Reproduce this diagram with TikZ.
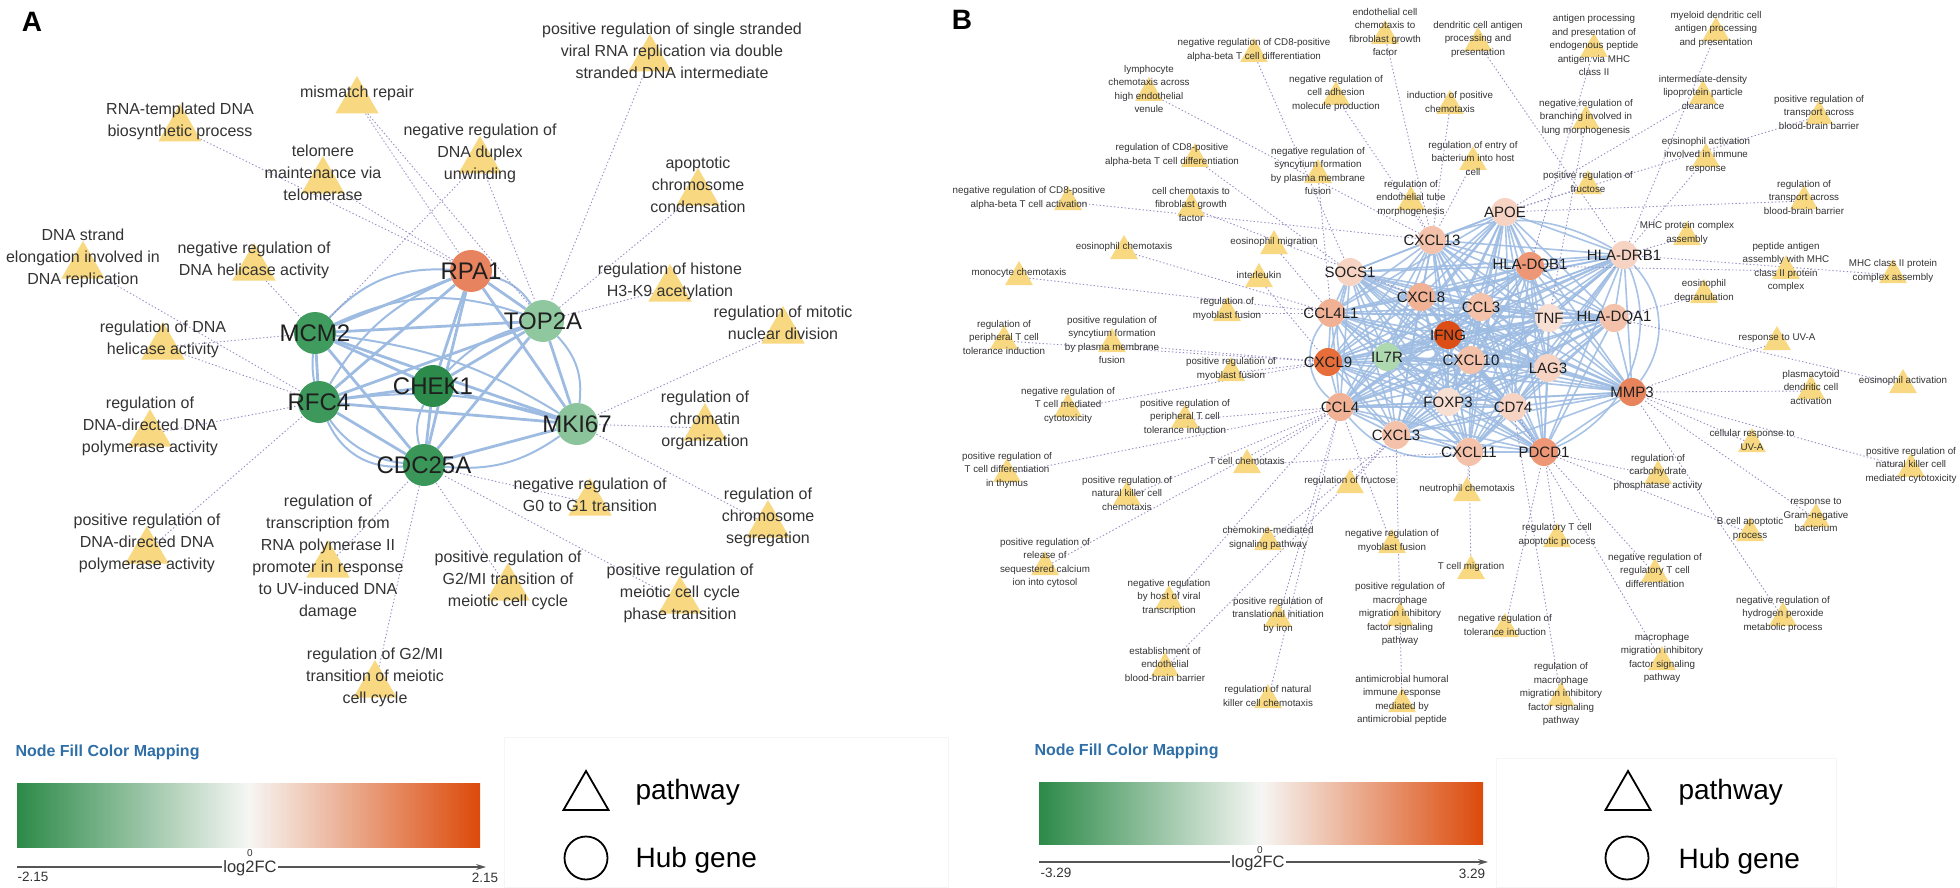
\documentclass[tikz,border=0pt]{standalone}
\usepackage{fontspec}
\setmainfont{Liberation Sans}
\usepackage{tikz}
\usetikzlibrary{shapes.geometric, arrows.meta, backgrounds}
\definecolor{triyellow}{HTML}{F8D880}
\definecolor{txtgray}{HTML}{333333}
\definecolor{hubtext}{HTML}{1F1F1F}
\definecolor{ppiblue}{HTML}{9EBCE2}
\definecolor{dotpurple}{HTML}{978FC6}
\definecolor{legblue}{HTML}{2F6FA6}
\definecolor{gradgreen}{HTML}{2C8A48}
\definecolor{gradorange}{HTML}{DC4A0A}
\definecolor{gradwhite}{HTML}{F6F6F4}
\definecolor{axisgray}{HTML}{555555}
\definecolor{cRPA}{HTML}{E8835F}
\definecolor{cTOP}{HTML}{8FC79F}
\definecolor{cMCM}{HTML}{3F9B5E}
\definecolor{cCHEK}{HTML}{2C8A4A}
\definecolor{cRFC}{HTML}{3C995B}
\definecolor{cMKI}{HTML}{8BC49B}
\definecolor{cCDC}{HTML}{3A9759}
\definecolor{cpale}{HTML}{F6D3C3}
\definecolor{cpeach}{HTML}{F4C2AA}
\definecolor{csalmon}{HTML}{F0B195}
\definecolor{cdeep}{HTML}{EE9776}
\definecolor{corange}{HTML}{E8845B}
\definecolor{cred}{HTML}{DD4E16}
\definecolor{cnine}{HTML}{E76E3A}
\definecolor{cwhite}{HTML}{F8DFD4}
\definecolor{cmint}{HTML}{AED8B0}
\tikzset{
  pathA/.style={regular polygon, regular polygon sides=3, minimum size=50pt,
    inner sep=0pt, fill=triyellow},
  pathB/.style={regular polygon, regular polygon sides=3, minimum size=32pt,
    inner sep=0pt, fill=triyellow},
  lblA/.style={align=center, font=\fontsize{16}{22}\selectfont, text=txtgray,
    yshift=8pt, inner sep=0pt},
  lblB/.style={align=center, font=\fontsize{9.8}{13.5}\selectfont, text=txtgray,
    yshift=4pt, inner sep=0pt},
  hubA/.style={circle, minimum size=42pt, inner sep=0pt},
  hubB/.style={circle, minimum size=28pt, inner sep=0pt},
  hubtxtA/.style={font=\fontsize{24}{24}\selectfont, text=hubtext, inner sep=0pt},
  hubtxtB/.style={font=\fontsize{15}{15}\selectfont, text=hubtext, inner sep=0pt},
  ppiA/.style={draw=ppiblue, line width=2.8pt},
  ppiB/.style={draw=ppiblue, line width=1.6pt, opacity=0.9},
  goedge/.style={draw=dotpurple, line width=0.9pt, dash pattern=on 1.4pt off 2.2pt},
  legtitle/.style={font=\bfseries\fontsize{16}{16}\selectfont, text=legblue, anchor=west},
  legtxt/.style={font=\fontsize{28}{28}\selectfont, text=black, anchor=west},
  ticktxt/.style={font=\fontsize{13.5}{13.5}\selectfont, text=txtgray, inner sep=1pt},
  axistxt/.style={font=\fontsize{16.5}{16.5}\selectfont, text=txtgray, fill=white, inner sep=1.5pt},
  legtri/.style={regular polygon, regular polygon sides=3, minimum size=52pt,
    inner sep=0pt, draw=black, line width=1.8pt},
  legcirc/.style={circle, minimum size=43pt, inner sep=0pt, draw=black, line width=1.8pt},
  axisline/.style={-{Stealth[length=10pt,width=6pt]}, line width=1.1pt, draw=axisgray},
  panel/.style={font=\bfseries\fontsize{28}{28}\selectfont, text=black}
}

\begin{document}
\begin{tikzpicture}[x=1pt, y=-1pt]
  \useasboundingbox (0,0) rectangle (1960,888);

  % panel A
  \node[panel] (labA) at (32,22) {A};

  \node[pathA, label={[lblA, xshift=22pt]center:{positive regulation of single stranded\\viral RNA replication via double\\stranded DNA intermediate}}] (a1) at (650,59) {};
  \node[pathA, label={[lblA]center:{mismatch repair}}] (a2) at (357,101) {};
  \node[pathA, label={[lblA]center:{RNA-templated DNA\\biosynthetic process}}] (a3) at (180,129) {};
  \node[pathA, label={[lblA]center:{telomere\\maintenance via\\telomerase}}] (a4) at (323,181) {};
  \node[pathA, label={[lblA]center:{negative regulation of\\DNA duplex\\unwinding}}] (a5) at (480,161) {};
  \node[pathA, label={[lblA]center:{apoptotic\\chromosome\\condensation}}] (a6) at (698,193) {};
  \node[pathA, label={[lblA]center:{DNA strand\\elongation involved in\\DNA replication}}] (a7) at (83,266) {};
  \node[pathA, label={[lblA]center:{negative regulation of\\DNA helicase activity}}] (a8) at (254,268) {};
  \node[pathA, label={[lblA]center:{regulation of histone\\H3-K9 acetylation}}] (a9) at (670,289) {};
  \node[pathA, label={[lblA]center:{regulation of mitotic\\nuclear division}}] (a10) at (783,331) {};
  \node[pathA, label={[lblA]center:{regulation of DNA\\helicase activity}}] (a11) at (163,347) {};
  \node[pathA, label={[lblA]center:{regulation of\\DNA-directed DNA\\polymerase activity}}] (a12) at (150,434) {};
  \node[pathA, label={[lblA]center:{regulation of\\chromatin\\organization}}] (a13) at (705,428) {};
  \node[pathA, label={[lblA]center:{negative regulation of\\G0 to G1 transition}}] (a14) at (590,503) {};
  \node[pathA, label={[lblA]center:{regulation of\\chromosome\\segregation}}] (a15) at (768,525) {};
  \node[pathA, label={[lblA]center:{positive regulation of\\DNA-directed DNA\\polymerase activity}}] (a16) at (147,551) {};
  \node[pathA, label={[lblA]center:{regulation of\\transcription from\\RNA polymerase II\\promoter in response\\to UV-induced DNA\\damage}}] (a17) at (328,565) {};
  \node[pathA, label={[lblA]center:{positive regulation of\\G2/MI transition of\\meiotic cell cycle}}] (a18) at (508,588) {};
  \node[pathA, label={[lblA]center:{positive regulation of\\meiotic cell cycle\\phase transition}}] (a19) at (680,601) {};
  \node[pathA, label={[lblA]center:{regulation of G2/MI\\transition of meiotic\\cell cycle}}] (a20) at (375,685) {};

  \node[hubA, fill=cRPA, label={[hubtxtA]center:RPA1}] (rpa1) at (471,271) {};
  \node[hubA, fill=cTOP, label={[hubtxtA]center:TOP2A}] (top2a) at (543,321) {};
  \node[hubA, fill=cMCM, label={[hubtxtA]center:MCM2}] (mcm2) at (315,333) {};
  \node[hubA, fill=cCHEK, label={[hubtxtA]center:CHEK1}] (chek1) at (433,386) {};
  \node[hubA, fill=cRFC, label={[hubtxtA]center:RFC4}] (rfc4) at (319,402) {};
  \node[hubA, fill=cMKI, label={[hubtxtA]center:MKI67}] (mki67) at (577,424) {};
  \node[hubA, fill=cCDC, label={[hubtxtA]center:CDC25A}] (cdc25a) at (424,465) {};

  % panel B
  \node[panel] (labB) at (962,20) {B};

  \node[pathB, label={[lblB]center:{negative regulation of CD8-positive\\alpha-beta T cell differentiation}}] (b1) at (1254,54) {};
  \node[pathB, label={[lblB]center:{lymphocyte\\chemotaxis across\\high endothelial\\venule}}] (b2) at (1149,93) {};
  \node[pathB, label={[lblB]center:{negative regulation of\\cell adhesion\\molecule production}}] (b3) at (1336,97) {};
  \node[pathB, label={[lblB, xshift=-23pt]center:{regulation of CD8-positive\\alpha-beta T cell differentiation}}] (b4) at (1195,159) {};
  \node[pathB, label={[lblB]center:{negative regulation of\\syncytium formation\\by plasma membrane\\fusion}}] (b5) at (1318,175) {};
  \node[pathB, label={[lblB, xshift=-39pt]center:{negative regulation of CD8-positive\\alpha-beta T cell activation}}] (b6) at (1068,202) {};
  \node[pathB, label={[lblB]center:{cell chemotaxis to\\fibroblast growth\\factor}}] (b7) at (1191,208) {};
  \node[pathB, label={[lblB]center:{eosinophil migration}}] (b8) at (1274,246) {};
  \node[pathB, label={[lblB]center:{eosinophil chemotaxis}}] (b9) at (1124,251) {};
  \node[pathB, label={[lblB]center:{monocyte chemotaxis}}] (b10) at (1019,277) {};
  \node[pathB, label={[lblB]center:{interleukin}}] (b11) at (1259,279) {};
  \node[pathB, label={[lblB]center:{regulation of\\myoblast fusion}}] (b12) at (1227,313) {};
  \node[pathB, label={[lblB]center:{regulation of\\peripheral T cell\\tolerance induction}}] (b13) at (1004,341) {};
  \node[pathB, label={[lblB]center:{positive regulation of\\syncytium formation\\by plasma membrane\\fusion}}] (b14) at (1112,344) {};
  \node[pathB, label={[lblB]center:{positive regulation of\\myoblast fusion}}] (b15) at (1231,373) {};
  \node[pathB, label={[lblB]center:{negative regulation of\\T cell mediated\\cytotoxicity}}] (b16) at (1068,409) {};
  \node[pathB, label={[lblB]center:{positive regulation of\\peripheral T cell\\tolerance induction}}] (b17) at (1185,420) {};
  \node[pathB, label={[lblB]center:{positive regulation of\\T cell differentiation\\in thymus}}] (b18) at (1007,474) {};
  \node[pathB, label={[lblB]center:{T cell chemotaxis}}] (b19) at (1247,465) {};
  \node[pathB, label={[lblB]center:{positive regulation of\\natural killer cell\\chemotaxis}}] (b20) at (1127,497) {};
  \node[pathB, label={[lblB]center:{regulation of fructose}}] (b21) at (1350,485) {};
  \node[pathB, label={[lblB]center:{neutrophil chemotaxis}}] (b22) at (1467,493) {};
  \node[pathB, label={[lblB]center:{chemokine-mediated\\signaling pathway}}] (b23) at (1268,542) {};
  \node[pathB, label={[lblB]center:{negative regulation of\\myoblast fusion}}] (b24) at (1392,545) {};
  \node[pathB, label={[lblB]center:{T cell migration}}] (b25) at (1471,571) {};
  \node[pathB, label={[lblB]center:{positive regulation of\\release of\\sequestered calcium\\ion into cytosol}}] (b26) at (1045,567) {};
  \node[pathB, label={[lblB]center:{negative regulation\\by host of viral\\transcription}}] (b27) at (1169,601) {};
  \node[pathB, label={[lblB]center:{positive regulation of\\translational initiation\\by iron}}] (b28) at (1278,619) {};
  \node[pathB, label={[lblB]center:{establishment of\\endothelial\\blood-brain barrier}}] (b29) at (1165,668) {};
  \node[pathB, label={[lblB]center:{regulation of natural\\killer cell chemotaxis}}] (b30) at (1268,700) {};
  \node[pathB, label={[lblB]center:{positive regulation of\\macrophage\\migration inhibitory\\factor signaling\\pathway}}] (b31) at (1400,618) {};
  \node[pathB, label={[lblB]center:{antimicrobial humoral\\immune response\\mediated by\\antimicrobial peptide}}] (b32) at (1402,704) {};
  \node[pathB, label={[lblB]center:{regulatory T cell\\apoptotic process}}] (b34) at (1557,539) {};
  \node[pathB, label={[lblB]center:{negative regulation of\\tolerance induction}}] (b35) at (1505,629) {};
  \node[pathB, label={[lblB]center:{regulation of\\macrophage\\migration inhibitory\\factor signaling\\pathway}}] (b36) at (1561,698) {};
  \node[pathB, label={[lblB]center:{negative regulation of\\regulatory T cell\\differentiation}}] (b37) at (1655,574) {};
  \node[pathB, label={[lblB]center:{macrophage\\migration inhibitory\\factor signaling\\pathway}}] (b38) at (1662,662) {};
  \node[pathB, label={[lblB]center:{regulation of\\carbohydrate\\phosphatase activity}}] (b39) at (1658,476) {};
  \node[pathB, label={[lblB]center:{B cell apoptotic\\process}}] (b40) at (1750,533) {};
  \node[pathB, label={[lblB]center:{response to\\Gram-negative\\bacterium}}] (b41) at (1816,519) {};
  \node[pathB, label={[lblB]center:{negative regulation of\\hydrogen peroxide\\metabolic process}}] (b42) at (1783,618) {};
  \node[pathB, label={[lblB]center:{cellular response to\\UV-A}}] (b43) at (1752,444) {};
  \node[pathB, label={[lblB]center:{positive regulation of\\natural killer cell\\mediated cytotoxicity}}] (b44) at (1911,469) {};
  \node[pathB, label={[lblB]center:{plasmacytoid\\dendritic cell\\activation}}] (b45) at (1811,391) {};
  \node[pathB, label={[lblB]center:{eosinophil activation}}] (b46) at (1903,385) {};
  \node[pathB, label={[lblB]center:{response to UV-A}}] (b47) at (1777,342) {};
  \node[pathB, label={[lblB]center:{eosinophil\\degranulation}}] (b48) at (1704,295) {};
  \node[pathB, label={[lblB]center:{MHC class II protein\\complex assembly}}] (b49) at (1893,275) {};
  \node[pathB, label={[lblB]center:{peptide antigen\\assembly with MHC\\class II protein\\complex}}] (b50) at (1786,271) {};
  \node[pathB, label={[lblB]center:{MHC protein complex\\assembly}}] (b51) at (1687,237) {};
  \node[pathB, label={[lblB]center:{regulation of\\transport across\\blood-brain barrier}}] (b52) at (1804,201) {};
  \node[pathB, label={[lblB]center:{eosinophil activation\\involved in immune\\response}}] (b53) at (1706,159) {};
  \node[pathB, label={[lblB]center:{positive regulation of\\transport across\\blood-brain barrier}}] (b54) at (1819,116) {};
  \node[pathB, label={[lblB]center:{intermediate-density\\lipoprotein particle\\clearance}}] (b55) at (1703,96) {};
  \node[pathB, label={[lblB]center:{positive regulation of\\fructose}}] (b56) at (1588,186) {};
  \node[pathB, label={[lblB]center:{negative regulation of\\branching involved in\\lung morphogenesis}}] (b57) at (1586,121) {};
  \node[pathB, label={[lblB]center:{antigen processing\\and presentation of\\endogenous peptide\\antigen via MHC\\class II}}] (b58) at (1594,49) {};
  \node[pathB, label={[lblB]center:{myeloid dendritic cell\\antigen processing\\and presentation}}] (b59) at (1716,33) {};
  \node[pathB, label={[lblB]center:{dendritic cell antigen\\processing and\\presentation}}] (b60) at (1478,43) {};
  \node[pathB, label={[lblB]center:{induction of positive\\chemotaxis}}] (b61) at (1450,106) {};
  \node[pathB, label={[lblB]center:{endothelial cell\\chemotaxis to\\fibroblast growth\\factor}}] (b62) at (1385,36) {};
  \node[pathB, label={[lblB]center:{regulation of entry of\\bacterium into host\\cell}}] (b63) at (1473,162) {};
  \node[pathB, label={[lblB]center:{regulation of\\endothelial tube\\morphogenesis}}] (b64) at (1411,202) {};

  \node[hubB, fill=cpale, label={[hubtxtB]center:APOE}] (apoe) at (1505,212) {};
  \node[hubB, fill=cpeach, label={[hubtxtB]center:CXCL13}] (cxcl13) at (1432,240) {};
  \node[hubB, fill=cdeep, label={[hubtxtB]center:HLA-DQB1}] (hladqb1) at (1530,266) {};
  \node[hubB, fill=cpale, label={[hubtxtB]center:HLA-DRB1}] (hladrb1) at (1624,255) {};
  \node[hubB, fill=cpale, label={[hubtxtB]center:SOCS1}] (socs1) at (1350,272) {};
  \node[hubB, fill=csalmon, label={[hubtxtB]center:CXCL8}] (cxcl8) at (1421,297) {};
  \node[hubB, fill=cpeach, label={[hubtxtB]center:CCL3}] (ccl3) at (1481,307) {};
  \node[hubB, fill=cwhite, label={[hubtxtB]center:TNF}] (tnf) at (1549,318) {};
  \node[hubB, fill=cpeach, label={[hubtxtB]center:HLA-DQA1}] (hladqa1) at (1614,318) {};
  \node[hubB, fill=csalmon, label={[hubtxtB]center:CCL4L1}] (ccl4l1) at (1331,313) {};
  \node[hubB, fill=cred, label={[hubtxtB]center:IFNG}] (ifng) at (1448,335) {};
  \node[hubB, fill=cmint, label={[hubtxtB]center:IL7R}] (il7r) at (1387,357) {};
  \node[hubB, fill=cpeach, label={[hubtxtB]center:CXCL10}] (cxcl10) at (1471,360) {};
  \node[hubB, fill=cpale, label={[hubtxtB]center:LAG3}] (lag3) at (1548,368) {};
  \node[hubB, fill=corange, label={[hubtxtB]center:MMP3}] (mmp3) at (1632,392) {};
  \node[hubB, fill=cnine, label={[hubtxtB]center:CXCL9}] (cxcl9) at (1328,362) {};
  \node[hubB, fill=cwhite, label={[hubtxtB]center:FOXP3}] (foxp3) at (1448,402) {};
  \node[hubB, fill=cpale, label={[hubtxtB]center:CD74}] (cd74) at (1513,407) {};
  \node[hubB, fill=csalmon, label={[hubtxtB]center:CCL4}] (ccl4) at (1340,407) {};
  \node[hubB, fill=cpeach, label={[hubtxtB]center:CXCL3}] (cxcl3) at (1396,435) {};
  \node[hubB, fill=cpeach, label={[hubtxtB]center:CXCL11}] (cxcl11) at (1469,452) {};
  \node[hubB, fill=cdeep, label={[hubtxtB]center:PDCD1}] (pdcd1) at (1544,452) {};

  \begin{scope}[on background layer]
    % hub links A
    \draw[ppiA] (rpa1) -- (top2a);
    \draw[ppiA] (rpa1) -- (mcm2);
    \draw[ppiA] (rpa1) -- (chek1);
    \draw[ppiA] (rpa1) -- (rfc4);
    \draw[ppiA] (rpa1) -- (mki67);
    \draw[ppiA] (rpa1) -- (cdc25a);
    \draw[ppiA] (top2a) -- (mcm2);
    \draw[ppiA] (top2a) -- (chek1);
    \draw[ppiA] (top2a) -- (rfc4);
    \draw[ppiA] (top2a) -- (mki67);
    \draw[ppiA] (top2a) -- (cdc25a);
    \draw[ppiA] (mcm2) -- (chek1);
    \draw[ppiA] (mcm2) -- (rfc4);
    \draw[ppiA] (mcm2) -- (mki67);
    \draw[ppiA] (mcm2) -- (cdc25a);
    \draw[ppiA] (chek1) -- (rfc4);
    \draw[ppiA] (chek1) -- (mki67);
    \draw[ppiA] (chek1) -- (cdc25a);
    \draw[ppiA] (rfc4) -- (mki67);
    \draw[ppiA] (rfc4) -- (cdc25a);
    \draw[ppiA] (mki67) -- (cdc25a);
    \draw[ppiA, line width=2pt] (mcm2) to[bend left=25] (rpa1);
    \draw[ppiA, line width=2pt] (mcm2) to[bend left=22] (top2a);
    \draw[ppiA, line width=2pt] (rpa1) to[bend left=20] (top2a);
    \draw[ppiA, line width=2pt] (mcm2) to[bend right=45] (cdc25a);
    \draw[ppiA, line width=2pt] (rfc4) to[bend right=35] (cdc25a);
    \draw[ppiA, line width=2pt] (top2a) to[bend left=25] (mki67);
    \draw[ppiA, line width=2pt] (cdc25a) to[bend right=20] (mki67);
    \draw[ppiA, line width=2pt] (chek1) to[bend left=15] (top2a);
    \draw[ppiA, line width=2pt] (rfc4) to[bend left=12] (mki67);
    \draw[ppiA, line width=2pt] (mcm2) to[bend left=12] (mki67);
    \draw[ppiA, line width=2pt] (rfc4) to[bend left=18] (rpa1);
    \draw[ppiA, line width=2pt] (chek1) to[bend right=20] (cdc25a);

    % pathway links A
    \draw[goedge] (a1) -- (top2a);
    \draw[goedge] (a2) -- (rpa1);
    \draw[goedge] (a2) -- (top2a);
    \draw[goedge] (a3) -- (rpa1);
    \draw[goedge] (a4) -- (rpa1);
    \draw[goedge] (a5) -- (top2a);
    \draw[goedge] (a5) -- (mcm2);
    \draw[goedge] (a6) -- (top2a);
    \draw[goedge] (a7) -- (rfc4);
    \draw[goedge] (a8) -- (mcm2);
    \draw[goedge] (a9) -- (top2a);
    \draw[goedge] (a10) -- (mki67);
    \draw[goedge] (a11) -- (mcm2);
    \draw[goedge] (a11) -- (rfc4);
    \draw[goedge] (a12) -- (rfc4);
    \draw[goedge] (a13) -- (mki67);
    \draw[goedge] (a14) -- (cdc25a);
    \draw[goedge] (a15) -- (mki67);
    \draw[goedge] (a16) -- (rfc4);
    \draw[goedge] (a17) -- (cdc25a);
    \draw[goedge] (a18) -- (cdc25a);
    \draw[goedge] (a19) -- (cdc25a);
    \draw[goedge] (a20) -- (cdc25a);

    % hub links B
    \foreach \u [count=\i] in {apoe,cxcl13,hladqb1,hladrb1,socs1,cxcl8,ccl3,tnf,hladqa1,ccl4l1,ifng,il7r,cxcl10,lag3,mmp3,cxcl9,foxp3,cd74,ccl4,cxcl3,cxcl11,pdcd1} {
      \foreach \v [count=\j] in {apoe,cxcl13,hladqb1,hladrb1,socs1,cxcl8,ccl3,tnf,hladqa1,ccl4l1,ifng,il7r,cxcl10,lag3,mmp3,cxcl9,foxp3,cd74,ccl4,cxcl3,cxcl11,pdcd1} {
        \ifnum\j>\i \draw[ppiB] (\u) -- (\v); \fi
      }
    }
    \draw[ppiB] (ccl4l1) to[bend right=45] (ccl4);
    \draw[ppiB] (socs1) to[bend right=35] (cxcl3);
    \draw[ppiB] (hladrb1) to[bend left=40] (mmp3);
    \draw[ppiB] (hladrb1) to[bend left=45] (pdcd1);
    \draw[ppiB] (cxcl13) to[bend left=25] (hladrb1);
    \draw[ppiB] (ccl4) to[bend right=30] (cxcl11);

    % pathway links B
    \draw[goedge] (b1) -- (socs1);
    \draw[goedge] (b2) -- (cxcl13);
    \draw[goedge] (b3) -- (cxcl13);
    \draw[goedge] (b4) -- (socs1);
    \draw[goedge] (b5) -- (ccl4l1);
    \draw[goedge] (b6) -- (cxcl13);
    \draw[goedge] (b7) -- (cxcl8);
    \draw[goedge] (b8) -- (ccl4l1);
    \draw[goedge] (b9) -- (ccl4l1);
    \draw[goedge] (b10) -- (ccl4l1);
    \draw[goedge] (b11) -- (cxcl9);
    \draw[goedge] (b12) -- (ccl4l1);
    \draw[goedge] (b13) -- (cxcl9);
    \draw[goedge] (b14) -- (cxcl9);
    \draw[goedge] (b15) -- (cxcl9);
    \draw[goedge] (b16) -- (cxcl9);
    \draw[goedge] (b17) -- (ccl4);
    \draw[goedge] (b18) -- (ccl4);
    \draw[goedge] (b19) -- (ccl4);
    \draw[goedge] (b19) -- (cxcl11);
    \draw[goedge] (b20) -- (ccl4);
    \draw[goedge] (b21) -- (cxcl3);
    \draw[goedge] (b22) -- (cxcl11);
    \draw[goedge] (b23) -- (cxcl3);
    \draw[goedge] (b24) -- (ccl4);
    \draw[goedge] (b25) -- (cxcl11);
    \draw[goedge] (b26) -- (ccl4);
    \draw[goedge] (b27) -- (ccl4);
    \draw[goedge] (b28) -- (ccl4);
    \draw[goedge] (b29) -- (cxcl3);
    \draw[goedge] (b30) -- (ccl4);
    \draw[goedge] (b31) -- (cxcl3);
    \draw[goedge] (b32) -- (b31);
    \draw[goedge] (b34) -- (pdcd1);
    \draw[goedge] (b35) -- (pdcd1);
    \draw[goedge] (b36) -- (cd74);
    \draw[goedge] (b37) -- (pdcd1);
    \draw[goedge] (b38) -- (cd74);
    \draw[goedge] (b39) -- (pdcd1);
    \draw[goedge] (b40) -- (pdcd1);
    \draw[goedge] (b41) -- (mmp3);
    \draw[goedge] (b42) -- (mmp3);
    \draw[goedge] (b43) -- (mmp3);
    \draw[goedge] (b44) -- (mmp3);
    \draw[goedge] (b45) -- (mmp3);
    \draw[goedge] (b46) -- (hladqa1);
    \draw[goedge] (b47) -- (mmp3);
    \draw[goedge] (b48) -- (hladqa1);
    \draw[goedge] (b49) -- (hladrb1);
    \draw[goedge] (b50) -- (hladqb1);
    \draw[goedge] (b51) -- (hladrb1);
    \draw[goedge] (b52) -- (apoe);
    \draw[goedge] (b53) -- (hladrb1);
    \draw[goedge] (b54) -- (apoe);
    \draw[goedge] (b55) -- (apoe);
    \draw[goedge] (b56) -- (apoe);
    \draw[goedge] (b57) -- (tnf);
    \draw[goedge] (b58) -- (hladqb1);
    \draw[goedge] (b59) -- (hladrb1);
    \draw[goedge] (b60) -- (hladrb1);
    \draw[goedge] (b61) -- (cxcl13);
    \draw[goedge] (b62) -- (cxcl13);
    \draw[goedge] (b63) -- (cxcl13);
    \draw[goedge] (b64) -- (cxcl13);
  \end{scope}

  % legend A
  \draw[black!4] (504,737) rectangle (948,887);
  \node[legtitle] (mapA) at (12,752) {Node Fill Color Mapping};
  \shade[left color=gradgreen, right color=gradorange, middle color=gradwhite] (17,783) rectangle (480,847);
  \coordinate (axA0) at (17,867);
  \coordinate (axA1) at (486,867);
  \draw[axisline] (axA0) -- (axA1);
  \node[axistxt] (fcA) at (250,868) {log2FC};
  \node[ticktxt, font=\fontsize{10}{10}\selectfont] (zeroA) at (250,853) {0};
  \node[ticktxt] (minA) at (33,877) {-2.15};
  \node[ticktxt] (maxA) at (485,878) {2.15};
  \node[legtri] (keytriA) at (586,797) {};
  \node[legtxt] (keypwA) at (632,792) {pathway};
  \node[legcirc] (keycircA) at (586,858) {};
  \node[legtxt] (keyhubA) at (632,860) {Hub gene};

  % legend B
  \draw[black!4] (1496,758) rectangle (1836,887);
  \node[legtitle] (mapB) at (1031,751) {Node Fill Color Mapping};
  \shade[left color=gradgreen, right color=gradorange, middle color=gradwhite] (1039,782) rectangle (1483,844);
  \coordinate (axB0) at (1039,862);
  \coordinate (axB1) at (1488,862);
  \draw[axisline] (axB0) -- (axB1);
  \node[axistxt] (fcB) at (1258,863) {log2FC};
  \node[ticktxt, font=\fontsize{10}{10}\selectfont] (zeroB) at (1260,850) {0};
  \node[ticktxt] (minB) at (1056,873) {-3.29};
  \node[ticktxt] (maxB) at (1472,874) {3.29};
  \node[legtri] (keytriB) at (1628,797) {};
  \node[legtxt] (keypwB) at (1675,792) {pathway};
  \node[legcirc] (keycircB) at (1627,858) {};
  \node[legtxt] (keyhubB) at (1675,861) {Hub gene};
\end{tikzpicture}
\end{document}
